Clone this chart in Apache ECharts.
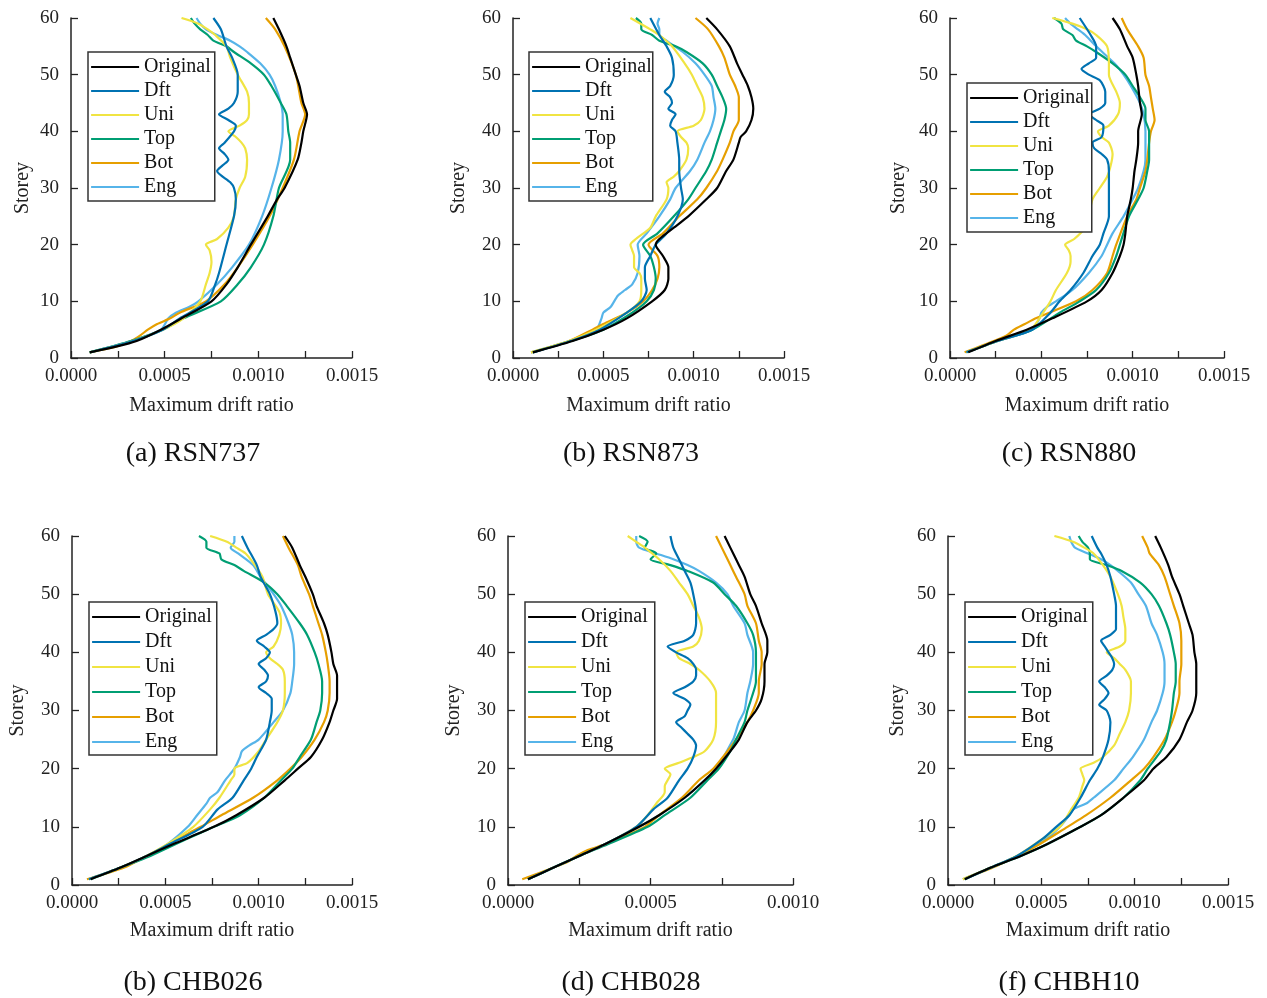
<!DOCTYPE html>
<html>
<head>
<meta charset="utf-8">
<script src="https://cdn.jsdelivr.net/npm/echarts@6/dist/echarts.min.js"></script>
<style>
html,body{margin:0;padding:0;background:#fff;}
#chart{width:1267px;height:998px;}
</style>
</head>
<body>
<div id="chart"></div>
<script>
// Data: [storey, maximum drift ratio]
const seriesNames = ['Original', 'Dft', 'Uni', 'Top', 'Bot', 'Eng'];
const captions = ['(a) RSN737', '(b) RSN873', '(c) RSN880', '(b) CHB026', '(d) CHB028', '(f) CHBH10'];
const xMaxes = [0.0015, 0.0015, 0.0015, 0.0015, 0.0010, 0.0015];
const yTicks = [0, 10, 20, 30, 40, 50, 60];

// (a) RSN737
const a_Original = [[1,0.00010],[2,0.00024],[3,0.00035],[5,0.00048],[7,0.00059],[10,0.00075],[13,0.00083],[16,0.00089],[20,0.00096],[25,0.00105],[28,0.00110],[30,0.00114],[35,0.00121],[38,0.00123],[40,0.00124],[43,0.00126],[45,0.00124],[48,0.00122],[50,0.00120],[53,0.00117],[55,0.00115],[58,0.00111],[60,0.00108]];
const a_Dft = [[1,0.00010],[3,0.00033],[5,0.00049],[7,0.00058],[10,0.00073],[13,0.00077],[15,0.00079],[20,0.00083],[25,0.00087],[28,0.00088],[30,0.00087],[31,0.00085],[33,0.00078],[34,0.00081],[35,0.00084],[36,0.00082],[37,0.00079],[38,0.00082],[40,0.00087],[41,0.00088],[42,0.00084],[43,0.00079],[44,0.00084],[45,0.00087],[47,0.00089],[50,0.00089],[53,0.00086],[55,0.00083],[58,0.00080],[60,0.00076]];
const a_Uni = [[1,0.00010],[3,0.00033],[5,0.00049],[7,0.00060],[10,0.00069],[13,0.00072],[15,0.00074],[17,0.00075],[19,0.00074],[20,0.00072],[21,0.00078],[23,0.00084],[25,0.00087],[28,0.00088],[30,0.00090],[32,0.00093],[35,0.00094],[37,0.00093],[38,0.00091],[39,0.00088],[40,0.00084],[41,0.00090],[42,0.00094],[43,0.00095],[45,0.00095],[47,0.00094],[50,0.00089],[53,0.00085],[55,0.00083],[57,0.00077],[58,0.00073],[59,0.00068],[60,0.00059]];
const a_Top = [[1,0.00010],[3,0.00032],[5,0.00049],[7,0.00060],[10,0.00080],[13,0.00089],[16,0.00096],[20,0.00103],[25,0.00108],[30,0.00111],[35,0.00117],[38,0.00117],[40,0.00116],[43,0.00115],[45,0.00112],[48,0.00107],[50,0.00103],[52,0.00096],[54,0.00087],[55,0.00083],[56,0.00076],[57,0.00073],[58,0.00069],[59,0.00066],[60,0.00064]];
const a_Bot = [[1,0.00010],[2,0.00024],[3,0.00032],[4,0.00037],[5,0.00041],[6,0.00046],[7,0.00053],[8,0.00058],[10,0.00072],[13,0.00082],[16,0.00089],[20,0.00097],[25,0.00106],[30,0.00113],[35,0.00119],[40,0.00122],[43,0.00125],[45,0.00123],[50,0.00120],[55,0.00114],[58,0.00109],[60,0.00104]];
const a_Eng = [[1,0.00010],[3,0.00032],[5,0.00048],[7,0.00052],[8,0.00056],[9,0.00063],[10,0.00068],[13,0.00078],[16,0.00086],[20,0.00095],[25,0.00102],[30,0.00107],[35,0.00111],[40,0.00113],[43,0.00113],[45,0.00112],[48,0.00109],[50,0.00106],[52,0.00101],[54,0.00094],[55,0.00090],[56,0.00085],[57,0.00078],[58,0.00072],[59,0.00069],[60,0.00067]];

// (b) RSN873
const b_Original = [[1,0.00011],[3,0.00033],[5,0.00050],[7,0.00063],[10,0.00077],[12,0.00084],[14,0.00086],[16,0.00086],[18,0.00083],[20,0.00079],[21,0.00081],[23,0.00089],[25,0.00097],[28,0.00107],[30,0.00113],[33,0.00118],[35,0.00122],[38,0.00125],[39,0.00126],[40,0.00129],[42,0.00132],[44,0.00133],[46,0.00132],[48,0.00130],[50,0.00127],[52,0.00124],[55,0.00120],[58,0.00113],[60,0.00107]];
const b_Dft = [[1,0.00011],[3,0.00032],[5,0.00048],[8,0.00063],[10,0.00071],[12,0.00074],[14,0.00073],[16,0.00073],[18,0.00076],[20,0.00079],[22,0.00085],[25,0.00091],[28,0.00094],[30,0.00093],[33,0.00092],[35,0.00092],[38,0.00091],[40,0.00090],[41,0.00087],[42,0.00088],[43,0.00090],[44,0.00086],[45,0.00088],[46,0.00087],[47,0.00084],[48,0.00087],[50,0.00089],[53,0.00088],[55,0.00085],[57,0.00081],[60,0.00076]];
const b_Uni = [[1,0.00010],[3,0.00031],[5,0.00046],[8,0.00063],[10,0.00070],[12,0.00071],[14,0.00071],[15,0.00070],[16,0.00067],[18,0.00067],[19,0.00066],[20,0.00065],[21,0.00068],[23,0.00076],[25,0.00079],[28,0.00085],[30,0.00086],[31,0.00085],[32,0.00089],[33,0.00092],[35,0.00096],[37,0.00097],[38,0.00096],[39,0.00093],[40,0.00091],[41,0.00100],[42,0.00104],[44,0.00106],[46,0.00105],[48,0.00102],[50,0.00099],[52,0.00095],[55,0.00088],[57,0.00081],[58,0.00076],[60,0.00065]];
const b_Top = [[1,0.00011],[3,0.00032],[5,0.00050],[8,0.00066],[10,0.00074],[12,0.00078],[14,0.00079],[16,0.00078],[18,0.00076],[20,0.00072],[22,0.00080],[25,0.00089],[28,0.00097],[30,0.00101],[33,0.00107],[35,0.00110],[38,0.00113],[40,0.00115],[42,0.00117],[44,0.00118],[46,0.00116],[48,0.00113],[50,0.00110],[52,0.00105],[54,0.00096],[55,0.00090],[56,0.00081],[57,0.00077],[58,0.00071],[59,0.00071],[60,0.00068]];
const b_Bot = [[1,0.00010],[3,0.00031],[5,0.00044],[6,0.00050],[8,0.00063],[10,0.00072],[12,0.00077],[14,0.00080],[16,0.00081],[18,0.00080],[20,0.00075],[22,0.00083],[25,0.00092],[28,0.00102],[30,0.00107],[33,0.00113],[35,0.00116],[38,0.00120],[40,0.00122],[42,0.00125],[44,0.00125],[46,0.00125],[48,0.00123],[50,0.00120],[53,0.00117],[55,0.00114],[58,0.00108],[60,0.00101]];
const b_Eng = [[1,0.00010],[3,0.00031],[5,0.00046],[7,0.00049],[8,0.00050],[9,0.00054],[11,0.00058],[12,0.00062],[13,0.00066],[15,0.00069],[18,0.00070],[20,0.00069],[22,0.00074],[25,0.00081],[28,0.00087],[30,0.00090],[33,0.00098],[35,0.00102],[38,0.00106],[40,0.00109],[42,0.00111],[44,0.00112],[46,0.00111],[48,0.00110],[50,0.00106],[52,0.00101],[54,0.00094],[56,0.00085],[57,0.00081],[58,0.00081],[59,0.00080],[60,0.00081]];

// (c) RSN880
const c_Original = [[1,0.00010],[3,0.00025],[5,0.00042],[7,0.00056],[10,0.00075],[12,0.00083],[15,0.00089],[18,0.00093],[20,0.00095],[22,0.00096],[25,0.00097],[28,0.00099],[30,0.00100],[33,0.00101],[35,0.00102],[38,0.00103],[40,0.00103],[43,0.00105],[45,0.00104],[48,0.00103],[50,0.00102],[53,0.00100],[55,0.00097],[58,0.00093],[60,0.00089]];
const c_Dft = [[1,0.00009],[3,0.00026],[5,0.00045],[8,0.00055],[10,0.00060],[12,0.00066],[15,0.00073],[18,0.00078],[20,0.00082],[22,0.00084],[25,0.00087],[28,0.00087],[30,0.00087],[33,0.00087],[35,0.00086],[36,0.00083],[37,0.00079],[38,0.00078],[39,0.00083],[41,0.00084],[42,0.00080],[43,0.00076],[44,0.00082],[45,0.00085],[47,0.00085],[49,0.00082],[50,0.00076],[51,0.00072],[52,0.00076],[53,0.00080],[55,0.00080],[57,0.00077],[60,0.00071]];
const c_Uni = [[1,0.00009],[3,0.00026],[5,0.00044],[8,0.00051],[10,0.00055],[12,0.00058],[15,0.00064],[17,0.00066],[18,0.00066],[19,0.00065],[20,0.00063],[21,0.00068],[23,0.00074],[25,0.00076],[28,0.00078],[30,0.00082],[32,0.00086],[34,0.00088],[36,0.00089],[38,0.00087],[39,0.00083],[40,0.00081],[41,0.00087],[43,0.00092],[45,0.00093],[47,0.00091],[50,0.00087],[52,0.00087],[55,0.00086],[57,0.00080],[58,0.00075],[59,0.00067],[60,0.00056]];
const c_Top = [[1,0.00009],[3,0.00026],[5,0.00045],[8,0.00060],[10,0.00071],[12,0.00080],[15,0.00087],[18,0.00091],[20,0.00093],[25,0.00098],[28,0.00103],[30,0.00106],[33,0.00108],[35,0.00109],[38,0.00109],[40,0.00109],[42,0.00107],[44,0.00107],[46,0.00104],[48,0.00100],[50,0.00096],[52,0.00089],[54,0.00080],[55,0.00075],[56,0.00069],[57,0.00067],[58,0.00062],[59,0.00061],[60,0.00057]];
const c_Bot = [[1,0.00008],[3,0.00024],[4,0.00031],[5,0.00035],[6,0.00041],[7,0.00047],[10,0.00069],[12,0.00078],[15,0.00086],[18,0.00089],[20,0.00091],[25,0.00097],[28,0.00102],[30,0.00104],[33,0.00107],[35,0.00108],[38,0.00109],[40,0.00110],[42,0.00112],[44,0.00111],[46,0.00110],[48,0.00109],[50,0.00107],[53,0.00106],[55,0.00103],[58,0.00097],[60,0.00094]];
const c_Eng = [[1,0.00009],[3,0.00026],[5,0.00045],[7,0.00049],[8,0.00050],[9,0.00053],[10,0.00058],[12,0.00067],[15,0.00076],[18,0.00083],[20,0.00086],[22,0.00089],[25,0.00095],[28,0.00100],[30,0.00103],[33,0.00106],[35,0.00107],[38,0.00107],[40,0.00107],[43,0.00106],[45,0.00104],[48,0.00099],[50,0.00095],[52,0.00090],[55,0.00080],[57,0.00074],[58,0.00070],[59,0.00066],[60,0.00063]];

// (b) CHB026
const d_Original = [[1,0.00010],[3,0.00026],[5,0.00040],[7,0.00054],[10,0.00076],[12,0.00088],[15,0.00103],[18,0.00114],[20,0.00121],[22,0.00128],[25,0.00134],[28,0.00138],[30,0.00140],[32,0.00142],[34,0.00142],[36,0.00142],[38,0.00140],[40,0.00139],[43,0.00137],[45,0.00135],[48,0.00131],[50,0.00129],[53,0.00125],[55,0.00122],[58,0.00118],[60,0.00114]];
const d_Dft = [[1,0.00009],[3,0.00026],[5,0.00040],[7,0.00052],[10,0.00070],[13,0.00078],[15,0.00086],[18,0.00092],[20,0.00096],[22,0.00099],[25,0.00104],[28,0.00106],[30,0.00107],[32,0.00107],[33,0.00104],[34,0.00100],[35,0.00104],[36,0.00105],[37,0.00103],[38,0.00100],[39,0.00104],[40,0.00106],[41,0.00103],[42,0.00099],[43,0.00104],[44,0.00108],[45,0.00110],[47,0.00109],[50,0.00106],[53,0.00101],[55,0.00099],[58,0.00094],[60,0.00091]];
const d_Uni = [[1,0.00009],[3,0.00026],[5,0.00040],[7,0.00051],[10,0.00065],[13,0.00074],[15,0.00079],[18,0.00085],[19,0.00087],[20,0.00087],[21,0.00094],[23,0.00100],[25,0.00104],[28,0.00110],[30,0.00113],[33,0.00114],[35,0.00114],[37,0.00113],[38,0.00110],[39,0.00106],[40,0.00104],[41,0.00108],[43,0.00111],[45,0.00112],[47,0.00111],[50,0.00105],[53,0.00102],[55,0.00098],[57,0.00093],[58,0.00088],[59,0.00083],[60,0.00074]];
const d_Top = [[1,0.00010],[3,0.00026],[5,0.00042],[8,0.00062],[10,0.00076],[12,0.00090],[15,0.00103],[18,0.00112],[20,0.00118],[22,0.00122],[25,0.00128],[28,0.00131],[30,0.00133],[33,0.00134],[35,0.00134],[38,0.00132],[40,0.00130],[43,0.00126],[45,0.00122],[48,0.00115],[50,0.00110],[52,0.00103],[54,0.00092],[55,0.00087],[56,0.00080],[57,0.00079],[58,0.00072],[59,0.00072],[60,0.00068]];
const d_Bot = [[1,0.00008],[3,0.00028],[5,0.00040],[6,0.00046],[7,0.00052],[9,0.00063],[10,0.00069],[12,0.00080],[15,0.00097],[18,0.00110],[20,0.00117],[22,0.00123],[25,0.00130],[28,0.00135],[30,0.00137],[33,0.00138],[35,0.00138],[38,0.00137],[40,0.00136],[43,0.00134],[45,0.00132],[48,0.00129],[50,0.00127],[53,0.00123],[55,0.00121],[58,0.00116],[60,0.00113]];
const d_Eng = [[1,0.00009],[3,0.00026],[5,0.00040],[7,0.00051],[10,0.00062],[12,0.00067],[14,0.00072],[15,0.00074],[16,0.00078],[18,0.00082],[20,0.00087],[22,0.00090],[23,0.00091],[24,0.00095],[25,0.00100],[28,0.00108],[30,0.00113],[33,0.00117],[35,0.00118],[38,0.00119],[40,0.00119],[43,0.00118],[45,0.00116],[48,0.00112],[50,0.00108],[53,0.00101],[55,0.00097],[57,0.00089],[58,0.00085],[59,0.00087],[60,0.00087]];

// (d) CHB028
const e_Original = [[1,0.00007],[3,0.00016],[5,0.00025],[7,0.00034],[10,0.00046],[12,0.00053],[15,0.00062],[18,0.00069],[20,0.00073],[23,0.00078],[25,0.00081],[28,0.00084],[30,0.00087],[32,0.00089],[35,0.00090],[38,0.00090],[40,0.00091],[42,0.00091],[45,0.00089],[48,0.00087],[50,0.00085],[53,0.00083],[55,0.00081],[58,0.00078],[60,0.00076]];
const e_Dft = [[1,0.00007],[3,0.00016],[5,0.00025],[7,0.00034],[10,0.00045],[13,0.00051],[15,0.00056],[18,0.00060],[20,0.00063],[22,0.00065],[24,0.00066],[25,0.00065],[26,0.00063],[27,0.00061],[28,0.00059],[29,0.00062],[30,0.00063],[31,0.00064],[32,0.00062],[33,0.00058],[34,0.00062],[35,0.00065],[36,0.00066],[37,0.00066],[38,0.00065],[39,0.00063],[40,0.00059],[41,0.00056],[42,0.00062],[43,0.00065],[45,0.00066],[47,0.00066],[50,0.00065],[52,0.00064],[54,0.00062],[56,0.00060],[58,0.00058],[60,0.00057]];
const e_Uni = [[1,0.00007],[3,0.00016],[5,0.00025],[7,0.00034],[10,0.00045],[12,0.00049],[14,0.00052],[16,0.00055],[17,0.00055],[18,0.00056],[19,0.00057],[20,0.00055],[21,0.00060],[22,0.00065],[23,0.00069],[25,0.00072],[28,0.00073],[30,0.00073],[33,0.00073],[35,0.00071],[37,0.00067],[38,0.00064],[39,0.00060],[40,0.00059],[41,0.00065],[42,0.00067],[44,0.00068],[46,0.00067],[48,0.00065],[50,0.00063],[52,0.00060],[54,0.00057],[56,0.00053],[58,0.00048],[59,0.00045],[60,0.00042]];
const e_Top = [[1,0.00007],[3,0.00016],[5,0.00025],[7,0.00035],[10,0.00049],[12,0.00055],[15,0.00064],[18,0.00070],[20,0.00074],[23,0.00078],[25,0.00080],[28,0.00083],[30,0.00084],[33,0.00086],[35,0.00087],[38,0.00087],[40,0.00087],[43,0.00086],[45,0.00084],[48,0.00080],[50,0.00076],[52,0.00072],[54,0.00063],[55,0.00057],[56,0.00050],[57,0.00052],[58,0.00048],[59,0.00049],[60,0.00046]];
const e_Bot = [[1,0.00005],[3,0.00016],[4,0.00021],[5,0.00024],[6,0.00028],[7,0.00034],[8,0.00039],[10,0.00048],[12,0.00053],[15,0.00061],[18,0.00067],[20,0.00072],[23,0.00077],[25,0.00080],[28,0.00084],[30,0.00086],[33,0.00088],[35,0.00088],[38,0.00089],[40,0.00089],[42,0.00088],[45,0.00087],[48,0.00084],[50,0.00083],[53,0.00080],[55,0.00078],[58,0.00075],[60,0.00073]];
const e_Eng = [[1,0.00007],[3,0.00016],[5,0.00025],[7,0.00034],[10,0.00046],[12,0.00053],[15,0.00062],[18,0.00069],[20,0.00073],[25,0.00079],[28,0.00081],[30,0.00083],[33,0.00084],[35,0.00085],[38,0.00086],[40,0.00086],[43,0.00084],[45,0.00083],[48,0.00079],[50,0.00077],[52,0.00073],[54,0.00067],[55,0.00063],[56,0.00058],[57,0.00052],[58,0.00046],[59,0.00045],[60,0.00045]];

// (f) CHBH10
const f_Original = [[1,0.00009],[3,0.00023],[5,0.00039],[7,0.00053],[10,0.00071],[12,0.00082],[15,0.00094],[18,0.00105],[20,0.00110],[22,0.00117],[25,0.00124],[28,0.00128],[30,0.00131],[33,0.00133],[35,0.00133],[38,0.00133],[40,0.00132],[43,0.00131],[45,0.00129],[48,0.00126],[50,0.00124],[53,0.00120],[55,0.00118],[58,0.00114],[60,0.00111]];
const f_Dft = [[1,0.00009],[3,0.00023],[5,0.00037],[8,0.00051],[10,0.00058],[12,0.00065],[15,0.00071],[18,0.00076],[20,0.00080],[22,0.00083],[25,0.00086],[28,0.00087],[30,0.00085],[31,0.00081],[32,0.00084],[33,0.00086],[34,0.00084],[35,0.00081],[36,0.00085],[37,0.00088],[38,0.00089],[39,0.00088],[40,0.00086],[41,0.00084],[42,0.00082],[43,0.00087],[44,0.00090],[46,0.00090],[48,0.00090],[50,0.00089],[53,0.00087],[55,0.00085],[57,0.00082],[58,0.00080],[60,0.00077]];
const f_Uni = [[1,0.00008],[3,0.00023],[5,0.00037],[8,0.00051],[10,0.00060],[13,0.00066],[15,0.00070],[17,0.00072],[18,0.00073],[19,0.00072],[20,0.00071],[21,0.00078],[22,0.00083],[24,0.00089],[26,0.00092],[28,0.00095],[30,0.00097],[33,0.00098],[35,0.00098],[37,0.00095],[38,0.00092],[39,0.00089],[40,0.00085],[41,0.00092],[42,0.00095],[44,0.00095],[46,0.00094],[48,0.00093],[50,0.00091],[53,0.00087],[55,0.00083],[57,0.00078],[58,0.00073],[59,0.00067],[60,0.00057]];
const f_Top = [[1,0.00009],[3,0.00023],[5,0.00039],[7,0.00053],[10,0.00071],[12,0.00082],[15,0.00094],[18,0.00103],[20,0.00107],[23,0.00114],[25,0.00117],[28,0.00119],[30,0.00120],[33,0.00121],[35,0.00122],[38,0.00122],[40,0.00121],[43,0.00119],[45,0.00117],[48,0.00113],[50,0.00109],[52,0.00103],[54,0.00093],[55,0.00085],[56,0.00076],[57,0.00076],[58,0.00075],[59,0.00072],[60,0.00070]];
const f_Bot = [[1,0.00008],[3,0.00024],[5,0.00037],[7,0.00049],[10,0.00064],[12,0.00074],[15,0.00087],[18,0.00098],[20,0.00105],[22,0.00110],[25,0.00116],[28,0.00120],[30,0.00122],[33,0.00124],[35,0.00124],[38,0.00125],[40,0.00125],[42,0.00125],[45,0.00124],[48,0.00121],[50,0.00119],[53,0.00116],[55,0.00113],[57,0.00108],[58,0.00107],[60,0.00104]];
const f_Eng = [[1,0.00008],[3,0.00023],[5,0.00037],[8,0.00053],[10,0.00060],[12,0.00065],[13,0.00067],[14,0.00074],[15,0.00078],[18,0.00089],[20,0.00094],[22,0.00099],[25,0.00105],[28,0.00109],[30,0.00112],[33,0.00115],[35,0.00116],[38,0.00116],[40,0.00115],[43,0.00112],[45,0.00109],[48,0.00106],[50,0.00102],[52,0.00098],[54,0.00091],[55,0.00087],[56,0.00082],[57,0.00075],[58,0.00068],[59,0.00066],[60,0.00065]];

const panelData = [
  {Original:a_Original, Dft:a_Dft, Uni:a_Uni, Top:a_Top, Bot:a_Bot, Eng:a_Eng},
  {Original:b_Original, Dft:b_Dft, Uni:b_Uni, Top:b_Top, Bot:b_Bot, Eng:b_Eng},
  {Original:c_Original, Dft:c_Dft, Uni:c_Uni, Top:c_Top, Bot:c_Bot, Eng:c_Eng},
  {Original:d_Original, Dft:d_Dft, Uni:d_Uni, Top:d_Top, Bot:d_Bot, Eng:d_Eng},
  {Original:e_Original, Dft:e_Dft, Uni:e_Uni, Top:e_Top, Bot:e_Bot, Eng:e_Eng},
  {Original:f_Original, Dft:f_Dft, Uni:f_Uni, Top:f_Top, Bot:f_Bot, Eng:f_Eng}
];

// ---- layout / style ----
const FONT = "'Liberation Serif', 'Times New Roman', Times, serif";
const colors = {Original:'#000000', Dft:'#0072B2', Uni:'#F0E442', Top:'#009E73', Bot:'#E69F00', Eng:'#56B4E9'};
const drawOrder = ['Eng', 'Bot', 'Top', 'Uni', 'Dft', 'Original'];
const layout = [
  {grid:{left:71, top:18, width:281, height:340}, legend:{left:88, top:52, pr:4}, yGap:38, xGap:38, cap:[193,454]},
  {grid:{left:513, top:18, width:271, height:340}, legend:{left:529, top:52, pr:1}, yGap:44, xGap:38, cap:[631,454]},
  {grid:{left:950, top:18, width:274, height:340}, legend:{left:967, top:83, pr:2}, yGap:41, xGap:38, cap:[1069,454]},
  {grid:{left:72, top:536, width:280, height:349}, legend:{left:89, top:602, pr:5}, yGap:44, xGap:36, cap:[193,983]},
  {grid:{left:508, top:536, width:285, height:349}, legend:{left:525, top:602, pr:7}, yGap:44, xGap:36, cap:[631,983]},
  {grid:{left:948, top:536, width:280, height:349}, legend:{left:965, top:602, pr:5}, yGap:40, xGap:36, cap:[1069,983]}
];

const grids = [], xAxes = [], yAxes = [], series = [], legends = [], graphics = [];
layout.forEach((L, i) => {
  grids.push(Object.assign({containLabel:false}, L.grid));
  xAxes.push({
    type:'value', gridIndex:i, min:0, max:xMaxes[i], interval:0.0005,
    name:'Maximum drift ratio', nameLocation:'middle', nameGap:L.xGap,
    nameTextStyle:{fontFamily:FONT, fontSize:20, color:'#222'},
    axisLine:{show:true, onZero:false, lineStyle:{color:'#222', width:1.5}},
    axisTick:{show:true, inside:true, length:7, lineStyle:{color:'#222', width:1.3}},
    minorTick:{show:true, splitNumber:2, length:7, lineStyle:{color:'#222', width:1.3}},
    splitLine:{show:false}, minorSplitLine:{show:false},
    axisLabel:{fontFamily:FONT, fontSize:19, color:'#222', margin:9, formatter:v => v.toFixed(4)}
  });
  yAxes.push({
    type:'value', gridIndex:i, min:yTicks[0], max:yTicks[yTicks.length-1], interval:10,
    name:'Storey', nameLocation:'middle', nameGap:L.yGap, nameRotate:90,
    nameTextStyle:{fontFamily:FONT, fontSize:20, color:'#222'},
    axisLine:{show:true, onZero:false, lineStyle:{color:'#222', width:1.5}},
    axisTick:{show:true, inside:true, length:7, lineStyle:{color:'#222', width:1.3}},
    splitLine:{show:false},
    axisLabel:{fontFamily:FONT, fontSize:19, color:'#222', margin:12}
  });
  drawOrder.forEach(name => {
    series.push({
      name:name, type:'line', xAxisIndex:i, yAxisIndex:i,
      data:panelData[i][name].map(p => [p[1], p[0]]),
      symbol:'none', showSymbol:false, smooth:0.25, silent:true,
      lineStyle:{color:colors[name], width:2.2},
      itemStyle:{color:colors[name]},
      animation:false
    });
  });
  const bottomRow = i >= 3;
  legends.push({
    data:seriesNames, orient:'vertical', left:L.legend.left, top:L.legend.top,
    itemWidth:48, itemHeight:20, itemGap: bottomRow ? 5 : 4,
    padding: bottomRow ? [5, L.legend.pr, 3, 2] : [5, L.legend.pr, 4, 2],
    borderColor:'#333', borderWidth:1.5, backgroundColor:'#fff',
    selectedMode:false,
    itemStyle:{opacity:0},
    lineStyle:{width:2.2},
    textStyle:{fontFamily:FONT, fontSize:20, color:'#111', lineHeight:20}
  });
  graphics.push({
    type:'text', x:L.cap[0], y:L.cap[1],
    style:{text:captions[i], fill:'#111', font:'28px ' + FONT, align:'center', verticalAlign:'middle', textAlign:'center', textVerticalAlign:'middle'}
  });
});

const chart = echarts.init(document.getElementById('chart'), null, {renderer:'canvas'});
chart.setOption({
  backgroundColor:'#ffffff',
  animation:false,
  grid:grids, xAxis:xAxes, yAxis:yAxes, series:series, legend:legends,
  graphic:graphics
});
</script>
</body>
</html>
